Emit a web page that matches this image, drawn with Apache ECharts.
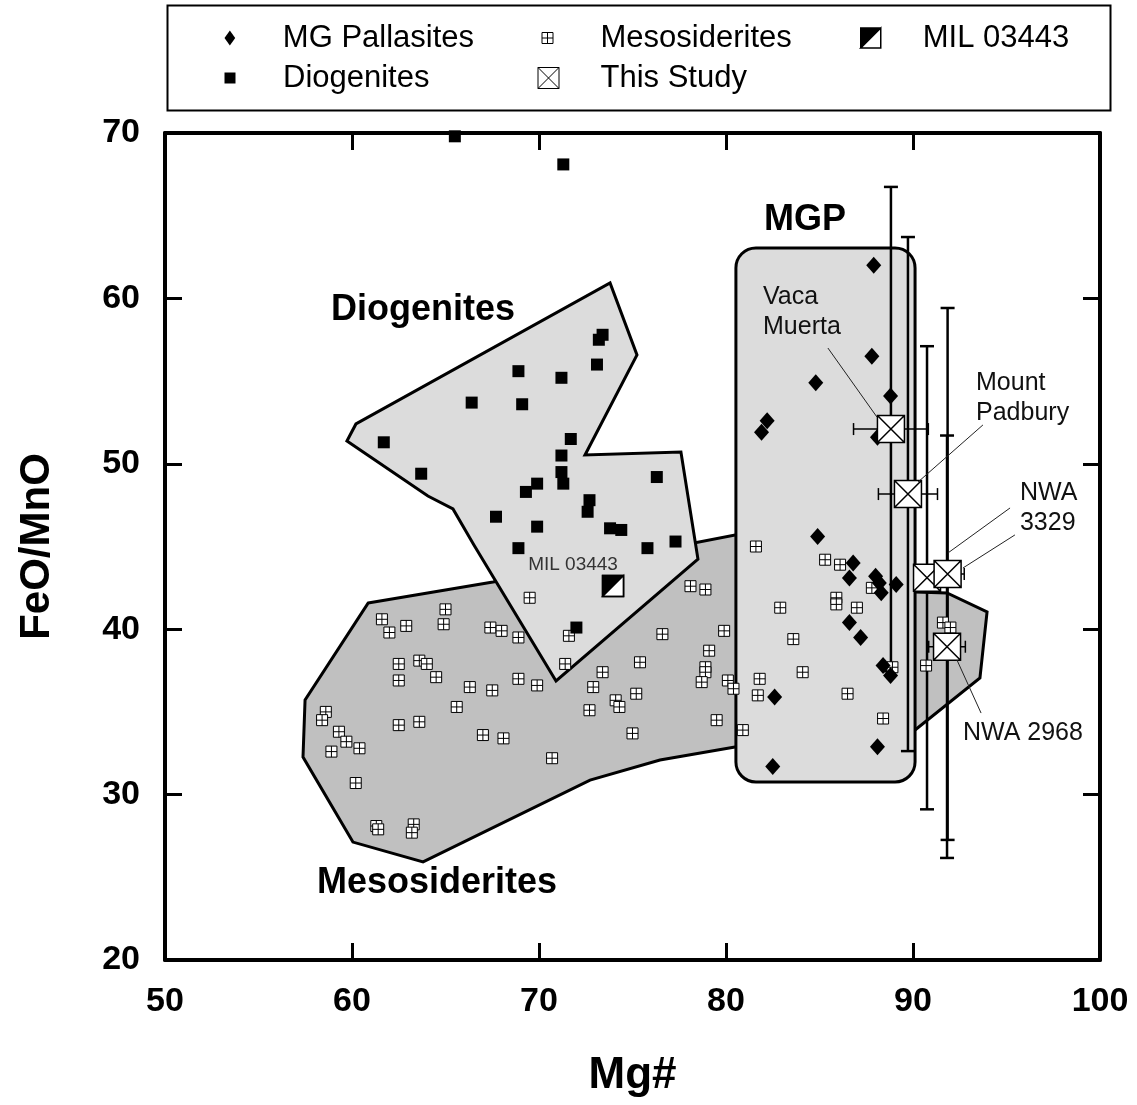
<!DOCTYPE html>
<html>
<head>
<meta charset="utf-8">
<title>FeO/MnO vs Mg#</title>
<script src="https://cdn.jsdelivr.net/npm/echarts@6/dist/echarts.min.js"></script>
<style>
  html, body { margin: 0; padding: 0; background: #fff; }
  #main { width: 1137px; height: 1105px; }
</style>
</head>
<body>
<div id="main"></div>
<script>
const FONT = '"Liberation Sans", Arial, Helvetica, sans-serif'

// ---- data: [Mg#, FeO/MnO] ----
const mgPallasites = [
  [87.9, 62.0], [87.8, 56.5], [84.8, 54.9], [88.8, 54.1], [82.2, 52.6], [81.9, 51.9],
  [88.1, 51.6], [84.9, 45.6], [86.8, 44.0], [86.6, 43.1], [88.0, 43.2], [88.2, 42.8],
  [88.3, 42.2], [89.1, 42.7], [86.6, 40.4], [87.2, 39.5], [88.4, 37.8], [88.8, 37.2],
  [82.6, 35.9], [88.1, 32.9], [82.5, 31.7]
]
const diogenites = [
  [65.5, 69.8], [71.3, 68.1], [61.7, 51.3], [63.7, 49.4], [66.4, 53.7], [68.9, 55.6],
  [69.1, 53.6], [71.2, 55.2], [73.1, 56.0], [73.4, 57.8], [73.2, 57.5], [71.7, 51.5],
  [71.2, 50.5], [71.2, 49.5], [71.3, 48.8], [69.9, 48.8], [69.3, 48.3], [72.7, 47.8],
  [72.6, 47.1], [67.7, 46.8], [69.9, 46.2], [73.8, 46.1], [74.4, 46.0], [68.9, 44.9],
  [75.8, 44.9], [77.3, 45.3], [76.3, 49.2], [72.0, 40.1]
]
const mesosiderites = [
  [69.5, 41.9], [65.0, 41.2], [64.9, 40.3], [61.6, 40.6], [62.0, 39.8], [62.9, 40.2],
  [67.4, 40.1], [68.0, 39.9], [68.9, 39.5], [71.6, 39.6], [78.1, 42.6], [78.9, 42.4],
  [76.6, 39.7], [79.9, 39.9], [79.1, 38.7], [78.9, 37.7], [78.9, 37.4], [78.7, 36.8],
  [80.1, 36.9], [80.4, 36.4], [79.5, 34.5], [80.9, 33.9], [75.4, 38.0], [75.2, 36.1],
  [73.4, 37.4], [72.9, 36.5], [74.1, 35.7], [74.3, 35.3], [72.7, 35.1], [75.0, 33.7],
  [71.4, 37.9], [70.7, 32.2], [69.9, 36.6], [68.9, 37.0], [67.5, 36.3], [66.3, 36.5],
  [65.6, 35.3], [67.0, 33.6], [68.1, 33.4], [62.5, 37.9], [62.5, 36.9], [63.6, 38.1],
  [64.0, 37.9], [64.5, 37.1], [62.5, 34.2], [63.6, 34.4], [58.6, 35.0], [58.4, 34.5],
  [59.3, 33.8], [59.7, 33.2], [58.9, 32.6], [60.4, 32.8], [60.2, 30.7], [61.3, 28.1],
  [61.4, 27.9], [63.3, 28.2], [63.2, 27.7],
  [81.6, 45.0], [85.3, 44.2], [86.1, 43.9], [87.8, 42.5], [85.9, 41.9], [85.9, 41.5],
  [82.9, 41.3], [87.0, 41.3], [83.6, 39.4], [81.8, 37.0], [81.7, 36.0], [84.1, 37.4],
  [86.5, 36.1], [88.9, 37.7], [88.4, 34.6], [91.6, 40.4], [92.0, 40.1], [90.7, 37.8]
]
const mil03443 = [[73.96, 42.61]]

// this study: Vaca Muerta, Mount Padbury, NWA 3329 (x2), NWA 2968
const studyMg = [88.82, 89.73, 90.75, 91.85, 91.82]
const studyFeMn = [52.10, 48.17, 43.11, 43.34, 38.94]
const studyMgErr = [2.0, 1.58, 0.5, 0.89, 0.98]
const studyFeMnErr = [14.64, 15.54, 14.0, 16.08, 12.77]

// fields
const diogenitesField = [
  [59.73, 51.38], [60.21, 52.41], [73.80, 60.93], [75.24, 56.58], [72.46, 50.53],
  [77.59, 50.71], [78.50, 44.24], [70.91, 36.87], [66.52, 45.09], [65.40, 47.27], [64.06, 48.05]
]
const mesosideritesField = [
  [60.86, 41.58], [67.54, 42.85], [80.48, 45.70], [90.11, 42.25], [91.82, 42.19],
  [93.96, 41.04], [93.58, 37.05], [90.11, 33.91], [80.48, 32.88], [76.47, 32.09],
  [72.73, 30.88], [63.80, 25.93], [60.05, 27.13], [57.38, 32.27], [57.49, 35.72]
]
const mgpField = [[80.53, 30.76], [90.11, 63.05]]

// annotations
const fieldNames = ['Diogenites', 'MGP', 'Mesosiderites']
const fieldNameAt = [[63.8, 59.3], [84.22, 64.74], [64.55, 24.66]]
const sampleNames = ['Vaca\nMuerta', 'Mount\nPadbury', 'NWA\n3329', 'NWA 2968']
const sampleNameAt = [[81.98, 59.15], [93.37, 54.0], [95.72, 47.33], [92.67, 33.72]]
const leaderLines = [
  [85.45, 57.0, 88.07, 52.83],
  [93.74, 52.35, 90.27, 48.90],
  [95.19, 47.33, 91.87, 44.61],
  [95.45, 45.70, 92.67, 43.70],
  [93.64, 34.93, 92.35, 38.14]
]

// ---- symbols ----
const DIAMOND_ICON = 'path://M5,0L10,7L5,14L0,7Z'
const SQUARE_ICON = 'path://M0,0H10V10H0Z'
const MESO_ICON = 'path://M0,0H10V10H0Z M5,0V10 M0,5H10'
const STUDY_ICON = 'path://M0,0H20V20H0Z M0,0L20,20 M20,0L0,20'
const MIL_ICON = 'path://M0,0L10,0L10,10L0,10Z M10,0L0,10L10,10Z'

function polygonSeries (verts, fill, z) {
  return {
    type: 'custom', z: z, silent: true, data: verts,
    renderItem: function (params, api) {
      if (params.dataIndex !== 0) return null
      return {
        type: 'polygon',
        shape: { points: verts.map(p => api.coord(p)) },
        style: { fill: fill, stroke: '#000', lineWidth: 3 }
      }
    }
  }
}

const studyRows = studyMg.map((x, i) => [x, studyFeMn[i], studyMgErr[i], studyFeMnErr[i]])

const chart = echarts.init(document.getElementById('main'))

// one legend per entry so each icon keeps its own size
function legendItem (name, icon, cx, cy, w, h, bw, textLeft) {
  return {
    data: [{ name: name, icon: icon }],
    left: cx - w / 2, top: cy - 20, padding: 0,
    itemWidth: w, itemHeight: h,
    selectedMode: false,
    itemStyle: { borderWidth: bw, opacity: 1 },
    textStyle: {
      fontSize: 31, fontFamily: FONT, color: '#000', lineHeight: 40,
      padding: [0, 0, 0, textLeft - (cx + w / 2 + 5)]
    }
  }
}

const option = {
  animation: false,
  backgroundColor: '#fff',
  grid: { left: 165, top: 133, width: 935, height: 827, outerBoundsMode: 'none' },
  legend: [
    legendItem('MG Pallasites', DIAMOND_ICON, 230, 38, 11, 15, 0, 283),
    legendItem('Diogenites', SQUARE_ICON, 230, 78, 11, 11, 0, 283),
    legendItem('Mesosiderites', MESO_ICON, 547, 38, 11, 11, 1, 600),
    legendItem('This Study', STUDY_ICON, 548, 78, 21, 21, 1, 600),
    legendItem('MIL 03443', MIL_ICON, 870, 38, 20, 20, 1.5, 922)
  ],
  graphic: [{
    type: 'rect', left: 165, top: 3, z: 10,
    shape: { width: 943, height: 105 },
    style: { fill: 'none', stroke: '#000', lineWidth: 2 }
  }],
  xAxis: [{
    type: 'value', min: 50, max: 100, interval: 10, position: 'bottom', z: 20,
    name: 'Mg#', nameLocation: 'middle', nameGap: 94,
    nameTextStyle: { fontSize: 44, fontWeight: 'bold', fontFamily: FONT, color: '#000' },
    axisLine: { show: true, onZero: false, lineStyle: { color: '#000', width: 4 } },
    axisTick: { show: true, inside: true, length: 17, lineStyle: { color: '#000', width: 3 } },
    axisLabel: { fontSize: 34, fontWeight: 'bold', fontFamily: FONT, color: '#000', margin: 25 },
    splitLine: { show: false }
  }, {
    type: 'value', min: 50, max: 100, interval: 10, position: 'top', z: 20,
    axisLine: { show: true, onZero: false, lineStyle: { color: '#000', width: 4 } },
    axisTick: { show: true, inside: true, length: 17, lineStyle: { color: '#000', width: 3 } },
    axisLabel: { show: false },
    splitLine: { show: false }
  }],
  yAxis: [{
    type: 'value', min: 20, max: 70, interval: 10, position: 'left', z: 20,
    name: 'FeO/MnO', nameLocation: 'middle', nameGap: 107,
    nameTextStyle: { fontSize: 42, fontWeight: 'bold', fontFamily: FONT, color: '#000' },
    axisLine: { show: true, onZero: false, lineStyle: { color: '#000', width: 4 } },
    axisTick: { show: true, inside: true, length: 17, lineStyle: { color: '#000', width: 3 } },
    axisLabel: { fontSize: 34, fontWeight: 'bold', fontFamily: FONT, color: '#000', margin: 25 },
    splitLine: { show: false }
  }, {
    type: 'value', min: 20, max: 70, interval: 10, position: 'right', z: 20,
    axisLine: { show: true, onZero: false, lineStyle: { color: '#000', width: 4 } },
    axisTick: { show: true, inside: true, length: 17, lineStyle: { color: '#000', width: 3 } },
    axisLabel: { show: false },
    splitLine: { show: false }
  }],
  series: [
    polygonSeries(mesosideritesField, '#c0c0c0', 1),
    polygonSeries(diogenitesField, '#dcdcdc', 2),
    {
      type: 'custom', z: 3, silent: true, data: mgpField,
      renderItem: function (params, api) {
        if (params.dataIndex !== 0) return null
        const a = api.coord(mgpField[0])
        const b = api.coord(mgpField[1])
        return {
          type: 'rect',
          shape: { x: a[0], y: b[1], width: b[0] - a[0], height: a[1] - b[1], r: 20 },
          style: { fill: '#dcdcdc', stroke: '#000', lineWidth: 3 }
        }
      }
    },
    {
      // error bars of this study
      type: 'custom', z: 4, silent: true, data: studyRows,
      renderItem: function (params, api) {
        const x = api.value(0), y = api.value(1), ex = api.value(2), ey = api.value(3)
        const t = api.coord([x, y + ey]), b = api.coord([x, y - ey])
        const l = api.coord([x - ex, y]), r = api.coord([x + ex, y])
        const st = { stroke: '#000', lineWidth: 2.5 }
        const c = 7, cx = 6
        const ln = (x1, y1, x2, y2, w) => ({ type: 'line', shape: { x1, y1, x2, y2 }, style: w ? { stroke: '#000', lineWidth: w } : st })
        return {
          type: 'group',
          children: [
            ln(t[0], t[1], b[0], b[1]),
            ln(t[0] - c, t[1], t[0] + c, t[1]),
            ln(b[0] - c, b[1], b[0] + c, b[1]),
            ln(l[0], l[1], r[0], r[1], 1.5),
            ln(l[0], l[1] - cx, l[0], l[1] + cx, 1.5),
            ln(r[0], r[1] - cx, r[0], r[1] + cx, 1.5)
          ]
        }
      }
    },
    {
      name: 'Mesosiderites', type: 'scatter', z: 5, data: mesosiderites,
      symbol: MESO_ICON, symbolSize: 11,
      itemStyle: { color: '#fff', borderColor: '#000', borderWidth: 1, opacity: 1 }
    },
    {
      name: 'Diogenites', type: 'scatter', z: 5, data: diogenites,
      symbol: 'rect', symbolSize: 12,
      itemStyle: { color: '#000', opacity: 1 }
    },
    {
      name: 'MG Pallasites', type: 'scatter', z: 5, data: mgPallasites,
      symbol: 'diamond', symbolSize: [15, 17],
      itemStyle: { color: '#000', opacity: 1 }
    },
    {
      name: 'MIL 03443 base', type: 'scatter', z: 6, data: mil03443,
      symbol: 'rect', symbolSize: 21,
      itemStyle: { color: '#fff', borderColor: '#000', borderWidth: 1.5, opacity: 1 }
    },
    {
      name: 'MIL 03443', type: 'scatter', z: 7, data: mil03443,
      symbol: MIL_ICON, symbolSize: 21,
      itemStyle: { color: '#000', borderColor: '#000', borderWidth: 1.5, opacity: 1 }
    },
    {
      name: 'This Study', type: 'scatter', z: 8, data: studyRows.map(r => [r[0], r[1]]),
      symbol: STUDY_ICON, symbolSize: 27,
      itemStyle: { color: '#fff', borderColor: '#000', borderWidth: 1.5, opacity: 1 }
    },
    {
      // leader lines
      type: 'custom', z: 9, silent: true, data: leaderLines,
      renderItem: function (params, api) {
        const p = api.coord([api.value(0), api.value(1)])
        const q = api.coord([api.value(2), api.value(3)])
        return {
          type: 'line', shape: { x1: p[0], y1: p[1], x2: q[0], y2: q[1] },
          style: { stroke: '#222', lineWidth: 1 }
        }
      }
    },
    {
      type: 'custom', z: 10, silent: true, data: fieldNameAt,
      renderItem: function (params, api) {
        const p = api.coord([api.value(0), api.value(1)])
        return {
          type: 'text', x: p[0], y: p[1],
          style: {
            text: fieldNames[params.dataIndex], fill: '#000',
            font: 'bold 36px ' + FONT, align: 'center', verticalAlign: 'middle'
          }
        }
      }
    },
    {
      type: 'custom', z: 10, silent: true, data: sampleNameAt,
      renderItem: function (params, api) {
        const p = api.coord([api.value(0), api.value(1)])
        return {
          type: 'text', x: p[0], y: p[1],
          style: {
            text: sampleNames[params.dataIndex], fill: '#111',
            font: '25px ' + FONT, lineHeight: 30, align: 'left', verticalAlign: 'middle'
          }
        }
      }
    },
    {
      type: 'custom', z: 10, silent: true, data: [[71.82, 43.88]],
      renderItem: function (params, api) {
        const p = api.coord([api.value(0), api.value(1)])
        return {
          type: 'text', x: p[0], y: p[1],
          style: {
            text: 'MIL 03443', fill: '#333',
            font: '19px ' + FONT, align: 'center', verticalAlign: 'middle'
          }
        }
      }
    }
  ]
}

chart.setOption(option)
</script>
</body>
</html>
